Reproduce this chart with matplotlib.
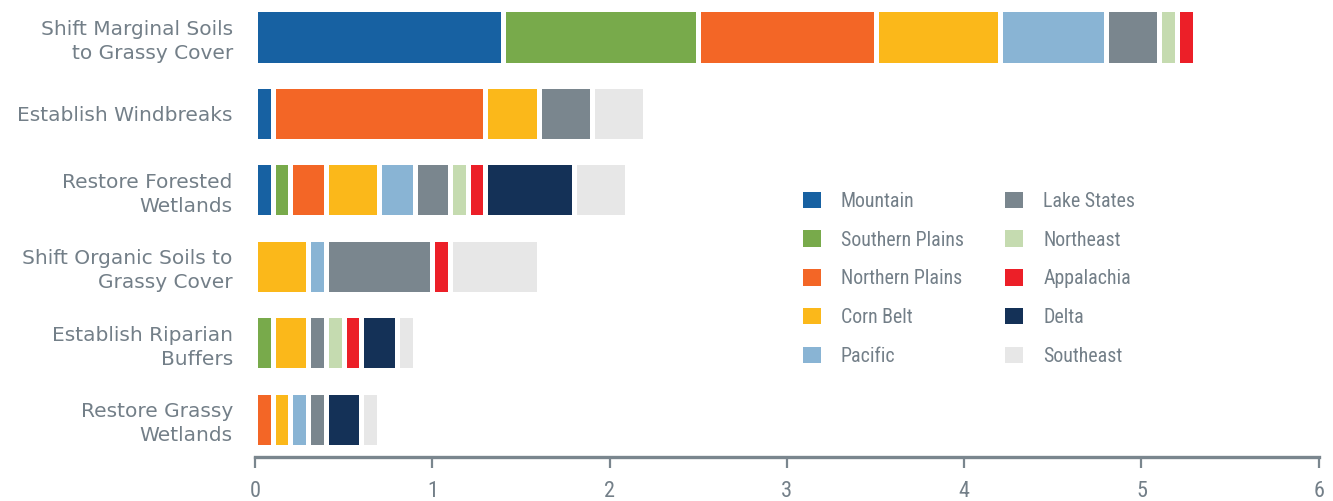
import matplotlib
matplotlib.use("Agg")
import numpy as np
import matplotlib.pyplot as plt
from matplotlib.patches import Patch

categories = [
    "Shift Marginal Soils\nto Grassy Cover",
    "Establish Windbreaks",
    "Restore Forested\nWetlands",
    "Shift Organic Soils to\nGrassy Cover",
    "Establish Riparian\nBuffers",
    "Restore Grassy\nWetlands",
]

regions = ["Mountain", "Southern Plains", "Northern Plains", "Corn Belt", "Pacific",
           "Lake States", "Northeast", "Appalachia", "Delta", "Southeast"]

mountain = [1.4, 0.1, 0.1, 0.0, 0.0, 0.0]
southern_plains = [1.1, 0.0, 0.1, 0.0, 0.1, 0.0]
northern_plains = [1.0, 1.2, 0.2, 0.0, 0.0, 0.1]
corn_belt = [0.7, 0.3, 0.3, 0.3, 0.2, 0.1]
pacific = [0.6, 0.0, 0.2, 0.1, 0.0, 0.1]
lake_states = [0.3, 0.3, 0.2, 0.6, 0.1, 0.1]
northeast = [0.1, 0.0, 0.1, 0.0, 0.1, 0.0]
appalachia = [0.1, 0.0, 0.1, 0.1, 0.1, 0.0]
delta = [0.0, 0.0, 0.5, 0.0, 0.2, 0.2]
southeast = [0.0, 0.3, 0.3, 0.5, 0.1, 0.1]

series = [mountain, southern_plains, northern_plains, corn_belt, pacific,
          lake_states, northeast, appalachia, delta, southeast]

colors = ["#1761a2", "#78aa4b", "#f36626", "#fbb81a", "#89b4d4",
          "#7a868e", "#c5dbb0", "#ec1f28", "#143157", "#e7e7e7"]

text_color = "#737f88"
narrow = ["Roboto Condensed", "DejaVu Sans"]

fig = plt.figure(figsize=(13.33, 5.01), dpi=100)
ax = fig.add_axes([0.1913, 0.0874, 0.798, 0.915])

y = np.arange(len(categories))
left = np.zeros(len(categories))
for vals, c in zip(series, colors):
    vals = np.array(vals)
    mask = vals > 0
    ax.barh(y[mask], vals[mask], left=left[mask], height=0.72, color=c,
            edgecolor="white", linewidth=3.6)
    left += vals

ax.set_xlim(0, 6)
ax.set_ylim(len(categories) - 0.5, -0.5)
ax.set_yticks(y)
ax.set_yticklabels(categories, fontsize=14.5, family="DejaVu Sans",
                   color=text_color, linespacing=1.35)
ax.tick_params(axis="y", length=0, pad=16)

ax.set_xticks(range(7))
ax.set_xticklabels([str(i) for i in range(7)], fontsize=16, family=narrow,
                   color=text_color)
ax.tick_params(axis="x", direction="out", length=8, width=1.6,
               color="#7a868e", pad=9)

for s in ["top", "right", "left"]:
    ax.spines[s].set_visible(False)
ax.spines["bottom"].set_color("#7a868e")
ax.spines["bottom"].set_linewidth(2.4)

handles = [Patch(facecolor=c, edgecolor="none", label=r) for r, c in zip(regions, colors)]
leg = fig.legend(handles=handles, ncol=2, loc="upper left",
                 bbox_to_anchor=(0.589, 0.653), frameon=False,
                 prop={"family": narrow, "size": 14.3},
                 handlelength=0.9, handleheight=0.9, handletextpad=1.0,
                 labelspacing=0.99, columnspacing=2.1)
for t in leg.get_texts():
    t.set_color(text_color)

fig.savefig("out.png", dpi=100)
